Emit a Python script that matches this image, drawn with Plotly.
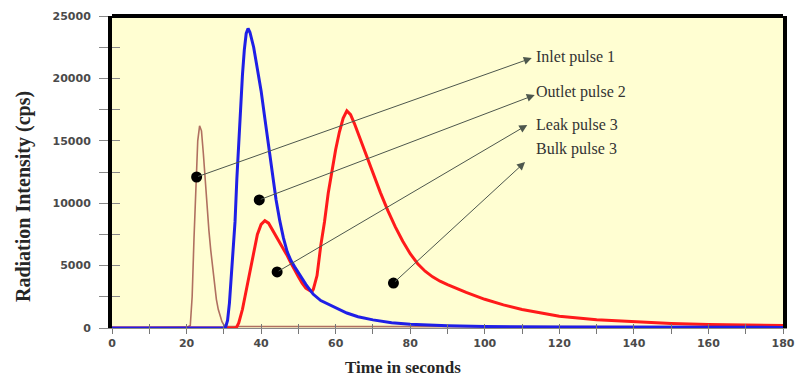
import plotly.graph_objects as go

# ---- pulse data (time in s, radiation intensity in cps) ----
inlet_t = [0, 10, 20, 21, 21.5, 22, 22.5, 23, 23.5, 24, 24.5, 25, 25.5, 26, 26.5,
           27, 27.5, 28, 28.5, 29, 29.5, 30, 31, 40, 60, 80, 100, 120, 140, 160, 180]
inlet_v = [0, 0, 50, 200, 2500, 7200, 12000, 15000, 16200, 15800, 14000, 11800, 9600,
           7800, 6200, 4700, 3400, 2300, 1500, 900, 500, 250, 120, 120, 120, 120, 100,
           100, 100, 100, 100]

outlet_t = [0, 10, 20, 30, 30.5, 31, 31.5, 32, 32.5, 33, 33.5, 34, 34.5, 35, 35.5, 36,
            36.5, 37, 38, 39, 40, 41, 42, 43, 44, 45, 46, 47, 48, 49, 50, 51, 52, 53,
            54, 56, 58, 60, 63, 66, 70, 75, 80, 90, 100, 120, 150, 180]
outlet_v = [0, 0, 0, 0, 100, 600, 2000, 4000, 6000, 8500, 12000, 15000, 17800, 20300,
            22300, 23600, 24000, 23700, 22500, 20900, 19000, 16800, 14500, 12300, 10300,
            8600, 7200, 6100, 5400, 4900, 4400, 3900, 3500, 3100, 2700, 2200, 1900, 1650,
            1200, 900, 650, 420, 300, 180, 120, 80, 60, 50]

# leak pulse 3 and bulk pulse 3 are one detector record
pulse3_t = [0, 10, 20, 30, 33, 33.5, 34, 35, 36, 37, 38, 39, 40, 41, 42, 43, 44, 45,
            46, 47, 48, 49, 50, 51, 52, 53, 53.6, 54, 55, 56, 57, 58, 59, 60, 61, 62,
            63, 64, 65, 66, 67, 68, 70, 72, 74, 76, 78, 80, 82, 84, 86, 88, 90, 95,
            100, 105, 110, 115, 120, 130, 140, 150, 160, 170, 180]
pulse3_v = [0, 0, 0, 0, 0, 100, 400, 1500, 3000, 4600, 6200, 7500, 8300, 8600, 8400,
            7900, 7300, 6800, 6300, 5800, 5200, 4600, 4100, 3600, 3200, 3000, 2900, 3100,
            4200, 6600, 8500, 10800, 12700, 14300, 15700, 16800, 17400, 17100, 16400,
            15600, 14800, 14000, 12400, 10850, 9400, 8100, 6950, 5950, 5150, 4550, 4100,
            3750, 3480, 2850, 2300, 1850, 1480, 1180, 940, 660, 490, 370, 290, 230, 200]

# callouts: dot on each pulse, arrow tip, label
labels = ["Inlet pulse 1", "Outlet pulse 2", "Leak pulse 3", "Bulk pulse 3"]
dot_t = [22.7, 39.5, 44.3, 75.5]
dot_v = [12100, 10260, 4490, 3600]
tip_t = [112.6, 113.4, 111.4, 110.8]
tip_v = [21630, 18670, 16270, 13300]
label_t = [113.3, 113.3, 113.3, 113.3]
label_v = [21700, 18950, 16300, 14350]

x_ticks = list(range(0, 181, 10))
y_ticks = list(range(0, 25001, 2500))
x_text = [str(v) if v % 20 == 0 else "" for v in x_ticks]
y_text = [str(v) if v % 5000 == 0 else "" for v in y_ticks]

fig = go.Figure()
fig.add_trace(go.Scatter(x=inlet_t, y=inlet_v, mode="lines",
                         line=dict(color="#b07060", width=1.6), name=labels[0]))
fig.add_trace(go.Scatter(x=pulse3_t, y=pulse3_v, mode="lines",
                         line=dict(color="#ff1a1a", width=3), name="pulse 3"))
fig.add_trace(go.Scatter(x=outlet_t, y=outlet_v, mode="lines",
                         line=dict(color="#1f1fe6", width=3), name=labels[1]))
fig.add_trace(go.Scatter(x=dot_t, y=dot_v, mode="markers",
                         marker=dict(color="black", size=11), name="markers"))
# invisible trace holding the inner tick axes
fig.add_trace(go.Scatter(x=[0], y=[0], xaxis="x2", yaxis="y2", mode="markers",
                         marker=dict(opacity=0), hoverinfo="skip"))

tick_font = dict(family="DejaVu Sans", size=11, color="#4a4a4a", weight="bold")

fig.update_layout(
    width=795, height=380,
    margin=dict(l=112, r=12, t=16, b=52),
    paper_bgcolor="white",
    plot_bgcolor="#fffed2",
    showlegend=False,
    xaxis=dict(range=[0, 180], tickvals=x_ticks, ticktext=x_text, ticks="outside",
               ticklen=5, tickcolor="#777", tickwidth=1, showgrid=False, zeroline=False,
               showline=True, linecolor="#8a8a8a", linewidth=1, tickfont=tick_font,
               automargin=False, ticklabeloverflow="allow"),
    yaxis=dict(range=[0, 25000], tickvals=y_ticks, ticktext=y_text, ticks="outside",
               ticklen=9, tickcolor="#888", tickwidth=1, showgrid=False, zeroline=False,
               showline=True, linecolor="black", linewidth=4, mirror=True,
               tickfont=tick_font, ticklabelstandoff=6, automargin=False),
    xaxis2=dict(range=[0, 180], overlaying="x", side="bottom", anchor="y2",
                tickvals=x_ticks, ticks="inside", ticklen=4, tickcolor="#777",
                showticklabels=False, showgrid=False, zeroline=False, showline=False,
                automargin=False),
    yaxis2=dict(range=[0, 25000], overlaying="y", side="left", anchor="x2",
                tickvals=y_ticks, ticks="inside", ticklen=8, tickcolor="#888",
                showticklabels=False, showgrid=False, zeroline=False, showline=False,
                automargin=False),
)

# top frame line
fig.add_shape(type="line", xref="paper", yref="paper", x0=0, x1=1, y0=1, y1=1,
              line=dict(color="black", width=4))

# axis titles
fig.add_annotation(text="Time in seconds", xref="paper", yref="paper",
                   x=(403 - 112) / 671, y=-0.125, xanchor="center", yanchor="middle",
                   showarrow=False,
                   font=dict(family="Liberation Serif", size=17, color="#262626",
                             weight="bold"))
fig.add_annotation(text="Radiation Intensity (cps)", xref="paper", yref="paper",
                   x=(24 - 112) / 671, y=(328 - 197) / 312, xanchor="center",
                   yanchor="middle", textangle=-90, showarrow=False,
                   font=dict(family="Liberation Serif", size=20, color="#262626",
                             weight="bold"))

# callout arrows and labels
for i, name in enumerate(labels):
    fig.add_annotation(x=tip_t[i], y=tip_v[i], ax=dot_t[i], ay=dot_v[i],
                       xref="x", yref="y", axref="x", ayref="y", text="",
                       showarrow=True, arrowhead=2, arrowsize=1.6, arrowwidth=1,
                       arrowcolor="#4d574d", standoff=0, startstandoff=0)
    fig.add_annotation(x=label_t[i], y=label_v[i], xref="x", yref="y", text=name,
                       xanchor="left", yanchor="middle", showarrow=False,
                       font=dict(family="Liberation Serif", size=16, color="#333333"))

fig.write_html("out.html")
